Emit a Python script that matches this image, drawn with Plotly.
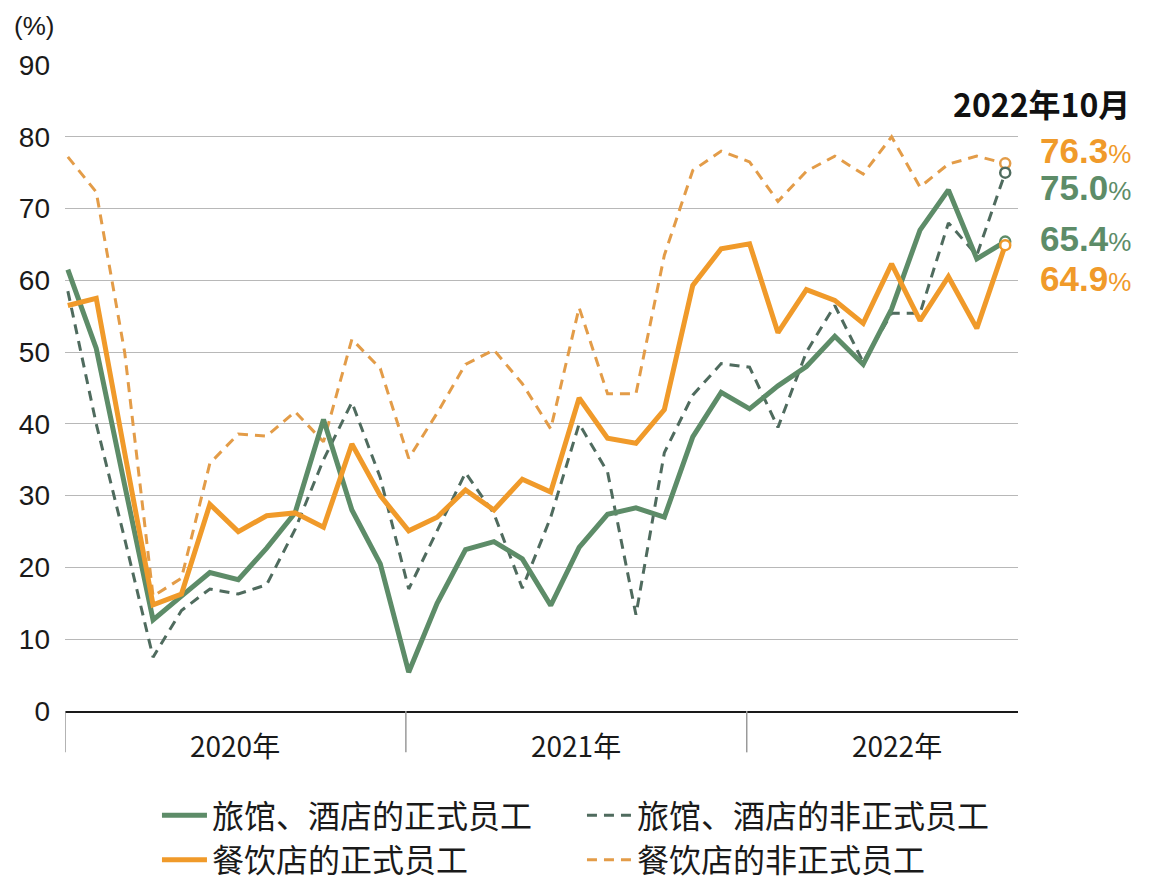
import plotly.graph_objects as go

# ---------------- data ----------------
months = ["2020-01", "2020-02", "2020-03", "2020-04", "2020-05", "2020-06",
          "2020-07", "2020-08", "2020-09", "2020-10", "2020-11", "2020-12",
          "2021-01", "2021-02", "2021-03", "2021-04", "2021-05", "2021-06",
          "2021-07", "2021-08", "2021-09", "2021-10", "2021-11", "2021-12",
          "2022-01", "2022-02", "2022-03", "2022-04", "2022-05", "2022-06",
          "2022-07", "2022-08", "2022-09", "2022-10"]

hotel_regular = [61.5, 50.5, 31.5, 12.7, 16.0, 19.3, 18.3, 22.7, 27.6, 40.6,
                 28.0, 20.5, 5.4, 15.0, 22.5, 23.6, 21.2, 14.7, 22.8, 27.4,
                 28.3, 27.0, 38.2, 44.4, 42.1, 45.3, 48.0, 52.2, 48.3, 56.0,
                 67.0, 72.6, 63.0, 65.4]

hotel_nonregular = [58.5, 40.0, 24.0, 7.5, 14.0, 17.0, 16.3, 17.6, 25.3, 35.0,
                    43.0, 32.5, 17.0, 25.0, 33.2, 27.5, 17.1, 27.0, 40.0, 33.3,
                    13.4, 36.0, 44.0, 48.4, 47.9, 39.5, 50.0, 56.5, 48.6, 55.4,
                    55.4, 68.0, 63.5, 75.0]

restaurant_regular = [56.5, 57.5, 36.0, 14.8, 16.3, 28.8, 25.0, 27.2, 27.6, 25.6,
                      37.2, 30.0, 25.1, 27.0, 30.8, 28.0, 32.3, 30.5, 43.6, 38.0,
                      37.3, 42.0, 59.3, 64.4, 65.1, 52.7, 58.7, 57.2, 54.0, 62.3,
                      54.4, 60.5, 53.3, 64.9]

restaurant_nonregular = [77.2, 72.3, 50.0, 16.0, 18.5, 34.5, 38.6, 38.3, 41.7, 37.5,
                         51.8, 47.7, 35.2, 41.5, 48.3, 50.3, 45.6, 39.3, 56.2, 44.2,
                         44.2, 63.5, 75.3, 78.0, 76.5, 71.0, 75.2, 77.3, 74.8, 80.0,
                         73.0, 76.2, 77.3, 76.3]

series_names = ["旅馆、酒店的正式员工", "旅馆、酒店的非正式员工",
                "餐饮店的正式员工", "餐饮店的非正式员工"]
year_labels = ["2020年", "2021年", "2022年"]
y_ticks = [0, 10, 20, 30, 40, 50, 60, 70, 80, 90]
latest_label = "2022年10月"

# ---------------- styling ----------------
GREEN = "#5d8c68"
GREEN_D = "#4f6b5e"
ORANGE = "#f09a2a"
ORANGE_D = "#e39c48"
CJK = "Noto Sans CJK SC"
LAT = "Liberation Sans, Arial"

x = list(range(len(months)))

fig = go.Figure()

specs = [
    (restaurant_nonregular, series_names[3], ORANGE_D, 3, "dash", 4),
    (hotel_nonregular, series_names[1], GREEN_D, 3, "dash", 2),
    (hotel_regular, series_names[0], GREEN, 5, "solid", 1),
    (restaurant_regular, series_names[2], ORANGE, 5, "solid", 3),
]

for vals, name, color, w, dash, rank in specs:
    fig.add_trace(go.Scatter(
        x=x, y=vals, mode="lines", name=name, legendrank=rank,
        line=dict(color=color, width=w, dash="10px,7px" if dash == "dash" else "solid"),
        hoverinfo="skip",
    ))

# open circle markers at the latest month
for vals, name, color, w, dash, rank in specs:
    fig.add_trace(go.Scatter(
        x=[x[-1]], y=[vals[-1]], mode="markers", showlegend=False,
        marker=dict(size=10, color="white", line=dict(color=color, width=2.5)),
        hoverinfo="skip",
    ))

# year dividers below the axis
year_starts = [months.index(f"{y[:4]}-01") for y in year_labels]
for s in year_starts:
    fig.add_shape(type="line", xref="x", yref="paper",
                  x0=s - 0.1, x1=s - 0.1, y0=0, y1=-0.064,
                  line=dict(color="#9a9a9a", width=1.5))

# year labels centred in each year segment
year_centres = [5.9, 17.9, 29.2]
for lab, xc in zip(year_labels, year_centres):
    fig.add_annotation(x=xc, y=-0.053, xref="x", yref="paper", text=lab,
                       showarrow=False, xanchor="center", yanchor="middle",
                       font=dict(family=CJK, size=28, color="#1a1a1a"))

# (%) unit label
fig.add_annotation(x=-0.056, y=1.086, xref="paper", yref="paper", text="(%)",
                   showarrow=False, xanchor="left", yanchor="top",
                   font=dict(family=LAT, size=26, color="#1a1a1a"))

# latest values on the right
fig.add_annotation(x=1.025, y=0.941, xref="paper", yref="paper",
                   text="<b>" + latest_label + "</b>", showarrow=False,
                   xanchor="center", yanchor="middle",
                   font=dict(family=CJK, size=32, color="#111111"))

value_labels = [
    (restaurant_nonregular[-1], ORANGE, 0.868),
    (hotel_nonregular[-1], GREEN, 0.8096),
    (hotel_regular[-1], GREEN, 0.7307),
    (restaurant_regular[-1], ORANGE, 0.670),
]
for v, c, yp in value_labels:
    fig.add_annotation(x=1.021, y=yp, xref="paper", yref="paper",
                       text=f"<b>{v:.1f}</b><span style='font-size:26px'>%</span>",
                       showarrow=False, xanchor="left", yanchor="middle",
                       font=dict(family=LAT, size=35, color=c))

# the page body adds an 8px offset; the figure is sized to fit the 1176x886 window
fig.update_layout(
    width=1168, height=878,
    margin=dict(l=57, r=158, t=57, b=175, autoexpand=False),
    paper_bgcolor="white", plot_bgcolor="white",
    showlegend=True,
    legend=dict(orientation="h", x=0.0965, y=-0.119, xanchor="left", yanchor="top",
                entrywidth=365, entrywidthmode="pixels", itemwidth=45,
                traceorder="normal", tracegroupgap=0,
                font=dict(family=CJK, size=32, color="#1a1a1a"),
                bgcolor="rgba(0,0,0,0)"),
    xaxis=dict(range=[-0.1, 33.45], showgrid=False, zeroline=False,
               showline=True, linecolor="#1a1a1a", linewidth=2,
               showticklabels=False, ticks=""),
    yaxis=dict(range=[0, 90], tickvals=y_ticks, showgrid=True,
               gridcolor="#b8b8b8", gridwidth=1, zeroline=False,
               showline=False, ticks="",
               ticklabelstandoff=14,
               tickfont=dict(family=LAT, size=28, color="#1a1a1a")),
)

fig.write_html("out.html")
